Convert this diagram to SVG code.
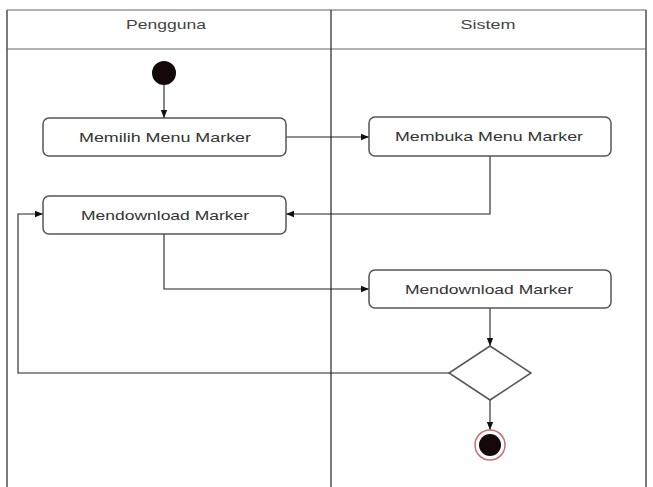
<svg xmlns="http://www.w3.org/2000/svg" width="653" height="487" viewBox="0 0 653 487">
  <defs>
    <marker id="arrow" viewBox="0 0 10 10" refX="10" refY="5" markerWidth="8" markerHeight="8" markerUnits="userSpaceOnUse" orient="auto">
      <path d="M0,1 L10,5 L0,9 z" fill="#111"/>
    </marker>
    <style>
      .lane { fill: none; stroke: #222; stroke-width: 1.2; }
      .hdr { stroke: #666; stroke-width: 1.2; }
      .title { font-family: "Liberation Sans", Arial, sans-serif; font-size: 13px; fill: #444; text-anchor: middle; }
      .box { fill: #fff; stroke: #555; stroke-width: 1.5; }
      .label { font-family: "Liberation Sans", Arial, sans-serif; font-size: 13.5px; fill: #333; text-anchor: middle; }
      .edge { fill: none; stroke: #222; stroke-width: 1.1; marker-end: url(#arrow); }
    </style>
  </defs>
  <rect width="653" height="487" fill="#fff"/>

  <!-- swimlanes -->
  <g id="lanes">
    <path class="lane" d="M7,487 V10"/>
    <path class="lane" d="M646,10 V487"/>
    <line class="hdr" x1="7" y1="10" x2="646" y2="10"/>
    <line class="hdr" x1="7" y1="49" x2="646" y2="49"/>
    <line class="lane" x1="331" y1="10" x2="331" y2="487"/>
    <text class="title" x="166" y="29" textLength="80" lengthAdjust="spacingAndGlyphs">Pengguna</text>
    <text class="title" x="488" y="29" textLength="55" lengthAdjust="spacingAndGlyphs">Sistem</text>
  </g>

  <!-- connectors -->
  <g id="connectors">
    <path class="edge" d="M164,85 V118"/>
    <path class="edge" d="M286,137 H369"/>
    <path class="edge" d="M490,156 V214 H286"/>
    <path class="edge" d="M164,234 V289 H369"/>
    <path class="edge" d="M490,308 V346"/>
    <path class="edge" d="M449,373 H18 V214 H43"/>
    <path class="edge" d="M490,400 V430"/>
  </g>

  <g id="start">
    <circle cx="164" cy="73" r="12" fill="#140808"/>
  </g>

  <g id="memilih-menu-marker">
    <rect class="box" x="43" y="118" width="243" height="38" rx="6"/>
    <text class="label" x="165" y="142" textLength="172" lengthAdjust="spacingAndGlyphs">Memilih Menu Marker</text>
  </g>

  <g id="membuka-menu-marker">
    <rect class="box" x="369" y="117" width="242" height="39" rx="6"/>
    <text class="label" x="489" y="141" textLength="188" lengthAdjust="spacingAndGlyphs">Membuka Menu Marker</text>
  </g>

  <g id="mendownload-marker-user">
    <rect class="box" x="43" y="196" width="243" height="38" rx="6"/>
    <text class="label" x="165" y="220" textLength="168" lengthAdjust="spacingAndGlyphs">Mendownload Marker</text>
  </g>

  <g id="mendownload-marker-system">
    <rect class="box" x="369" y="270" width="242" height="38" rx="6"/>
    <text class="label" x="489" y="294" textLength="168" lengthAdjust="spacingAndGlyphs">Mendownload Marker</text>
  </g>

  <g id="decision">
    <polygon class="box" points="490,346 531,373 490,400 449,373"/>
  </g>

  <g id="end">
    <circle cx="490" cy="445" r="15" fill="#fff" stroke="#c87070" stroke-width="1.5"/>
    <circle cx="490" cy="445" r="11" fill="#140808"/>
  </g>
</svg>
